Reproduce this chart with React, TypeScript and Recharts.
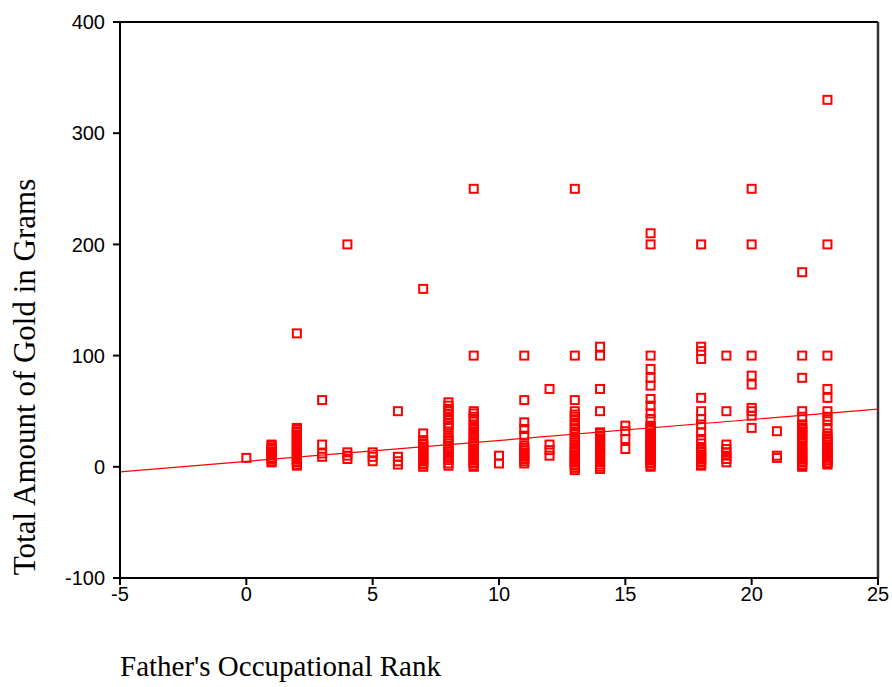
import React from "react";
import {
  ScatterChart,
  Scatter,
  XAxis,
  YAxis,
  ReferenceLine,
  Label,
} from "recharts";

// Father's occupational rank categories present in the data
const ranks = [0, 1, 2, 3, 4, 5, 6, 7, 8, 9, 10, 11, 12, 13, 14, 15, 16, 18, 19, 20, 21, 22, 23];

// Total amount of gold (grams) observed at each rank
const goldByRank: number[][] = [
  [8],
  [20, 19, 17, 16, 14, 13, 11, 10, 8, 7, 5, 4],
  [120, 35, 34, 32, 31, 29, 28, 26, 25, 23, 22, 20, 19, 17, 16, 14, 13, 11, 10, 8, 7, 5, 4, 2, 1],
  [60, 20, 12, 9],
  [200, 13, 10, 7],
  [13, 9, 5],
  [50, 9, 5, 2],
  [160, 30, 24, 21, 20, 18, 17, 15, 14, 12, 11, 9, 8, 6, 5, 3, 2, 0],
  [58, 55, 52, 50, 47, 44, 42, 39, 37, 35, 30, 26, 24, 21, 19, 16, 14, 12, 10, 8, 6, 3, 1],
  [250, 100, 50, 48, 45, 43, 41, 38, 36, 34, 32, 30, 28, 26, 23, 22, 21, 19, 18, 16, 15, 13, 12, 10, 9, 7, 6, 4, 3, 1, 0],
  [10, 3],
  [100, 60, 40, 34, 28, 19, 17, 15, 13, 11, 9, 7, 5, 3],
  [70, 20, 15, 10],
  [250, 100, 60, 50, 47, 45, 42, 39, 37, 34, 31, 29, 26, 24, 22, 20, 17, 16, 14, 13, 11, 10, 8, 7, 5, 4, 2, 1, -1, -3],
  [108, 100, 70, 50, 31, 30, 28, 27, 25, 24, 22, 21, 19, 18, 16, 15, 13, 12, 10, 8, 6, 4, 2, 0, -2],
  [37, 32, 25, 16],
  [210, 200, 100, 88, 80, 73, 61, 55, 48, 43, 37, 36, 34, 33, 30, 28, 27, 25, 24, 22, 21, 19, 18, 16, 15, 13, 12, 10, 9, 7, 6, 4, 3, 1, 0],
  [200, 108, 104, 97, 62, 50, 43, 38, 31, 25, 21, 17, 16, 14, 13, 11, 10, 8, 7, 5, 4, 2, 1],
  [100, 50, 20, 16, 13, 10, 7, 4],
  [250, 200, 100, 82, 74, 53, 50, 46, 35],
  [32, 10, 8],
  [175, 100, 80, 50, 45, 38, 37, 35, 34, 32, 31, 29, 28, 26, 25, 23, 22, 19, 17, 16, 14, 13, 11, 10, 8, 7, 5, 4, 2, 1, 0],
  [330, 200, 100, 70, 62, 50, 45, 41, 35, 30, 27, 25, 23, 22, 20, 17, 16, 14, 12, 11, 9, 8, 6, 4, 3, 2],
];

// Fitted linear regression line
const fitIntercept = 4.9;
const fitSlope = 1.88;

const xTicks = [-5, 0, 5, 10, 15, 20, 25];
const yTicks = [-100, 0, 100, 200, 300, 400];

const points = ranks.flatMap((r, i) => goldByRank[i].map((g) => ({ rank: r, gold: g })));
const fitAt = (x: number) => fitIntercept + fitSlope * x;

const RED = "#ff0000";
const tickStyle = { fill: "#000", fontSize: 20, fontFamily: "'Liberation Sans', Arial, sans-serif" };
const titleFont = "'Liberation Serif', 'Times New Roman', serif";

const SquareShape = (p: any) => {
  const { cx, cy } = p;
  if (cx == null || cy == null) return <g />;
  return <rect x={cx - 4} y={cy - 4} width={8} height={8} fill="none" stroke={RED} strokeWidth={2} />;
};

export default function App() {
  return (
    <div style={{ position: "absolute", left: 0, top: 0, background: "#fff" }}>
      <ScatterChart width={892} height={687} margin={{ top: 22, right: 14, bottom: 79, left: 0 }}>
        <XAxis
          type="number"
          dataKey="rank"
          domain={[-5, 25]}
          ticks={xTicks}
          allowDataOverflow
          tick={tickStyle}
          tickSize={7}
          tickMargin={2}
          height={30}
          axisLine={{ stroke: "#000", strokeWidth: 2 }}
          tickLine={{ stroke: "#000", strokeWidth: 2 }}
        >
          <Label
            content={() => (
              <text x={120} y={676} fontFamily={titleFont} fontSize={29} fill="#000">
                Father's Occupational Rank
              </text>
            )}
          />
        </XAxis>
        <YAxis
          type="number"
          dataKey="gold"
          domain={[-100, 400]}
          ticks={yTicks}
          allowDataOverflow
          tick={tickStyle}
          tickSize={7}
          tickMargin={8}
          width={120}
          axisLine={{ stroke: "#000", strokeWidth: 2 }}
          tickLine={{ stroke: "#000", strokeWidth: 2 }}
        >
          <Label
            content={() => (
              <text
                x={35}
                y={377}
                transform="rotate(-90 35 377)"
                textAnchor="middle"
                fontFamily={titleFont}
                fontSize={31}
                fill="#000"
              >
                Total Amount of Gold in Grams
              </text>
            )}
          />
        </YAxis>
        <ReferenceLine y={400} stroke="#000" strokeWidth={2} />
        <ReferenceLine x={25} stroke="#333" strokeWidth={2.5} />
        <ReferenceLine
          segment={[
            { x: -5, y: fitAt(-5) },
            { x: 25, y: fitAt(25) },
          ]}
          stroke={RED}
          strokeWidth={1.2}
        />
        <Scatter data={points} shape={SquareShape} isAnimationActive={false} />
      </ScatterChart>
    </div>
  );
}
